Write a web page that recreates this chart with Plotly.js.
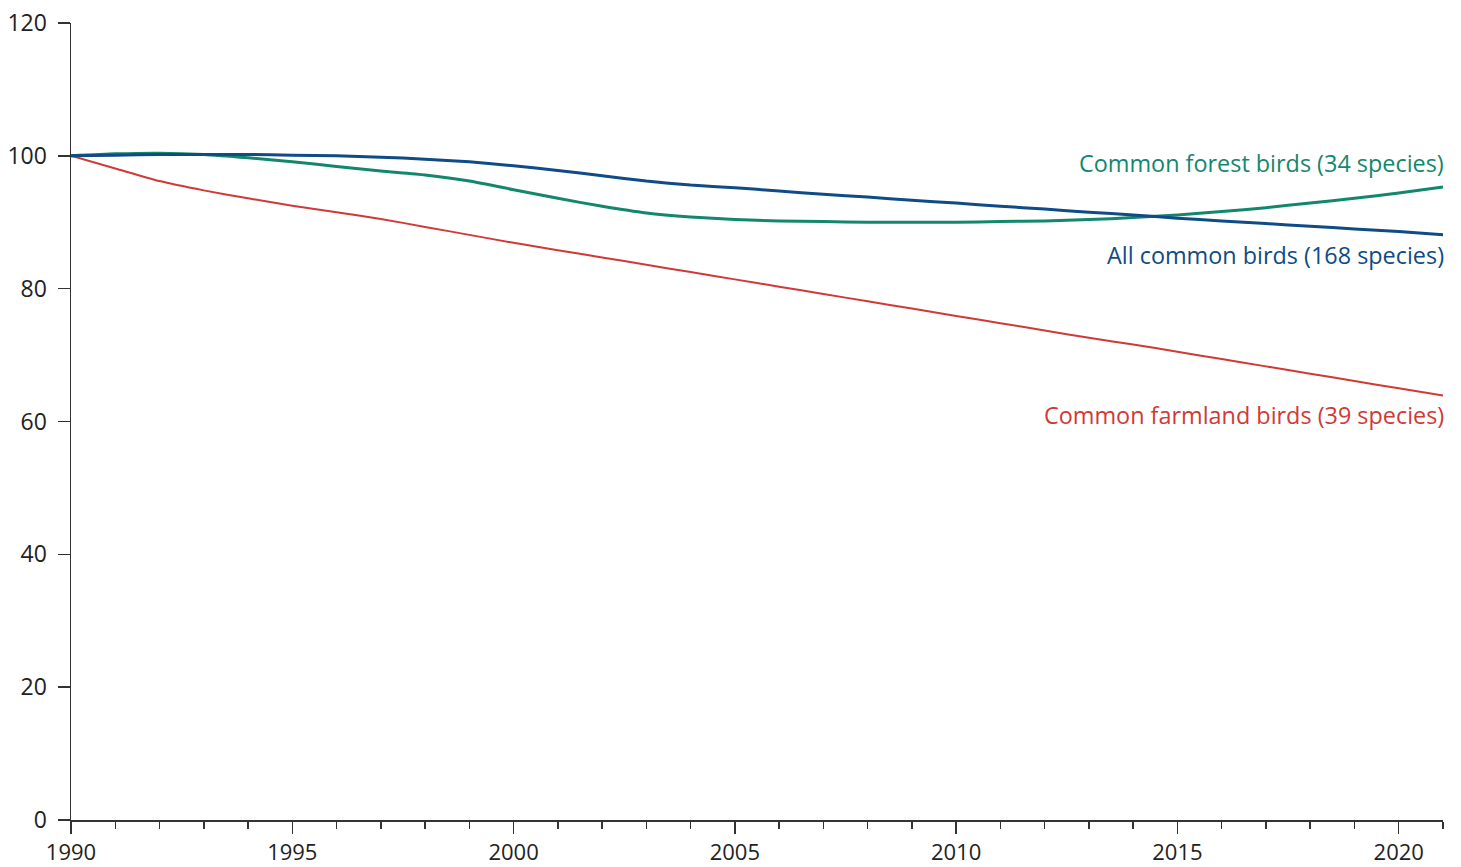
<!DOCTYPE html>
<html>
<head>
<meta charset="utf-8">
<script src="https://cdn.plot.ly/plotly-3.0.1.min.js"></script>
<style>html,body{margin:0;padding:0;background:#fff;}#chart{width:1461px;height:867px;}</style>
</head>
<body>
<div id="chart"></div>
<script>
const years = [1990,1991,1992,1993,1994,1995,1996,1997,1998,1999,2000,2001,2002,2003,2004,2005,2006,2007,2008,2009,2010,2011,2012,2013,2014,2015,2016,2017,2018,2019,2020,2021];
const allBirds = [100,100.1,100.2,100.2,100.2,100.1,100.0,99.8,99.5,99.1,98.5,97.8,97.0,96.2,95.6,95.2,94.7,94.2,93.8,93.3,92.9,92.4,92.0,91.5,91.1,90.6,90.2,89.8,89.4,89.0,88.6,88.1];
const forestBirds = [100,100.3,100.4,100.2,99.7,99.1,98.4,97.7,97.1,96.2,94.9,93.6,92.4,91.4,90.8,90.4,90.2,90.1,90.0,90.0,90.0,90.1,90.2,90.4,90.7,91.1,91.6,92.2,92.9,93.6,94.4,95.3];
const farmlandBirds = [100,98.1,96.2,94.8,93.6,92.5,91.5,90.5,89.3,88.1,86.9,85.8,84.7,83.6,82.5,81.4,80.3,79.2,78.1,77.0,75.9,74.8,73.7,72.6,71.6,70.5,69.4,68.3,67.2,66.1,65.0,63.9];
const seriesNames = ["All common birds (168 species)","Common forest birds (34 species)","Common farmland birds (39 species)"];
const colors = {all:"#0f4b86", forest:"#13876d", farm:"#cf3a37"};

const traces = [
  {x: years, y: farmlandBirds, mode:"lines", line:{color:colors.farm, width:2, shape:"spline", smoothing:0.6}, name:seriesNames[2], cliponaxis:false},
  {x: years, y: forestBirds, mode:"lines", line:{color:colors.forest, width:3, shape:"spline", smoothing:0.6}, name:seriesNames[1], cliponaxis:false},
  {x: years, y: allBirds, mode:"lines", line:{color:colors.all, width:3, shape:"spline", smoothing:0.6}, name:seriesNames[0], cliponaxis:false}
];

const font = "'Open Sans', 'Noto Sans', sans-serif";
const layout = {
  width:1461, height:867,
  margin:{l:71, r:18, t:23, b:47},
  paper_bgcolor:"#fff", plot_bgcolor:"#fff",
  showlegend:false,
  font:{family:font, color:"#222", size:23},
  xaxis:{
    range:[1990,2021], tickmode:"linear", tick0:1990, dtick:5,
    ticks:"outside", ticklen:12, tickwidth:1.5, tickcolor:"#333",
    showline:true, linecolor:"#333", linewidth:1.5,
    showgrid:false, zeroline:false, ticklabelstandoff:0,
    tickfont:{family:font, size:22, color:"#222"},
    minor:{dtick:1, tick0:1990, ticks:"outside", ticklen:7, tickwidth:1.5, tickcolor:"#333", showgrid:false}
  },
  yaxis:{
    range:[0,120], tickmode:"linear", tick0:0, dtick:20,
    ticks:"outside", ticklen:12, tickwidth:1.5, tickcolor:"#333",
    showline:true, linecolor:"#333", linewidth:1.5,
    showgrid:false, zeroline:false, ticklabelstandoff:6,
    tickfont:{family:font, size:23, color:"#222"}
  },
  annotations:[
    {x:2021, y:98.9, xref:"x", yref:"y", xshift:3, text:seriesNames[1], showarrow:false, xanchor:"right", yanchor:"middle", font:{family:font, size:23.4, color:colors.forest}},
    {x:2021, y:85.1, xref:"x", yref:"y", xshift:3, text:seriesNames[0], showarrow:false, xanchor:"right", yanchor:"middle", font:{family:font, size:23.4, color:colors.all}},
    {x:2021, y:61.0, xref:"x", yref:"y", xshift:3, text:seriesNames[2], showarrow:false, xanchor:"right", yanchor:"middle", font:{family:font, size:23.4, color:colors.farm}}
  ]
};
Plotly.newPlot("chart", traces, layout, {displayModeBar:false, staticPlot:true});
</script>
</body>
</html>
